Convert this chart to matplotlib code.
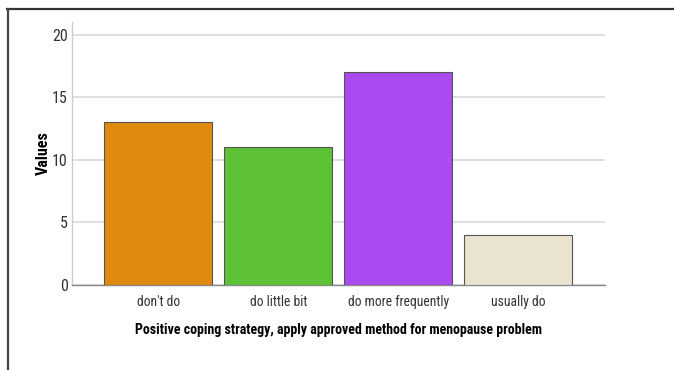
import matplotlib
matplotlib.use("Agg")
import matplotlib.pyplot as plt
from matplotlib.lines import Line2D
from matplotlib import font_manager

categories = ["don't do", "do little bit", "do more frequently", "usually do"]
values = [13, 11, 17, 4]
colors = ["#E08A10", "#5DC236", "#A94BF0", "#EAE3D0"]
yticks = [0, 5, 10, 15, 20]

names = {f.name for f in font_manager.fontManager.ttflist}
candidates = ["Liberation Sans Narrow", "Arial Narrow", "Roboto Condensed",
              "PT Sans Narrow", "Archivo Narrow", "Liberation Sans"]
narrow = next(n for n in candidates if n in names or n == "Liberation Sans")
plt.rcParams["font.family"] = [narrow, "DejaVu Sans"]

W, H = 674, 370
fig = plt.figure(figsize=(W / 100, H / 100), dpi=100)
ax = fig.add_axes([72 / W, 1 - 285 / H, (605 - 72) / W, (285 - 22) / H])

x = list(range(len(categories)))
ax.bar(x, values, width=0.9, color=colors, edgecolor="#555555", linewidth=0.8, zorder=3)

ax.set_xlim(-0.72, 3.725)
ax.set_ylim(0, 21)
ax.set_yticks(yticks)
ax.set_yticklabels([str(t) for t in yticks], fontsize=11.5, color="#333333")
ax.set_xticks(x)
ax.set_xticklabels(categories, fontsize=9.8, color="#333333")
ax.tick_params(axis="y", length=0, pad=3)
ax.tick_params(axis="x", length=0, pad=7)

ax.grid(axis="y", color="#dddddd", linewidth=1.3, zorder=0)
ax.set_axisbelow(True)
for side in ["top", "right"]:
    ax.spines[side].set_visible(False)
ax.spines["left"].set_color("#cccccc")
ax.spines["left"].set_linewidth(1.0)
ax.spines["bottom"].set_color("#888888")
ax.spines["bottom"].set_linewidth(1.0)

ax.set_ylabel("Values", fontsize=11.5, fontweight="bold")
ax.yaxis.set_label_coords(-0.04, 0.5)
ax.set_xlabel("Positive coping strategy, apply approved method for menopause problem",
              fontsize=10, fontweight="bold", labelpad=10)

# Frame lines along the top and left of the figure
fig.add_artist(Line2D([7 / W, 1], [1 - 9 / H, 1 - 9 / H], color="#333333", linewidth=1.6))
fig.add_artist(Line2D([8 / W, 8 / W], [0, 1 - 9 / H], color="#444444", linewidth=1.6))

fig.savefig("out.png", dpi=100)
